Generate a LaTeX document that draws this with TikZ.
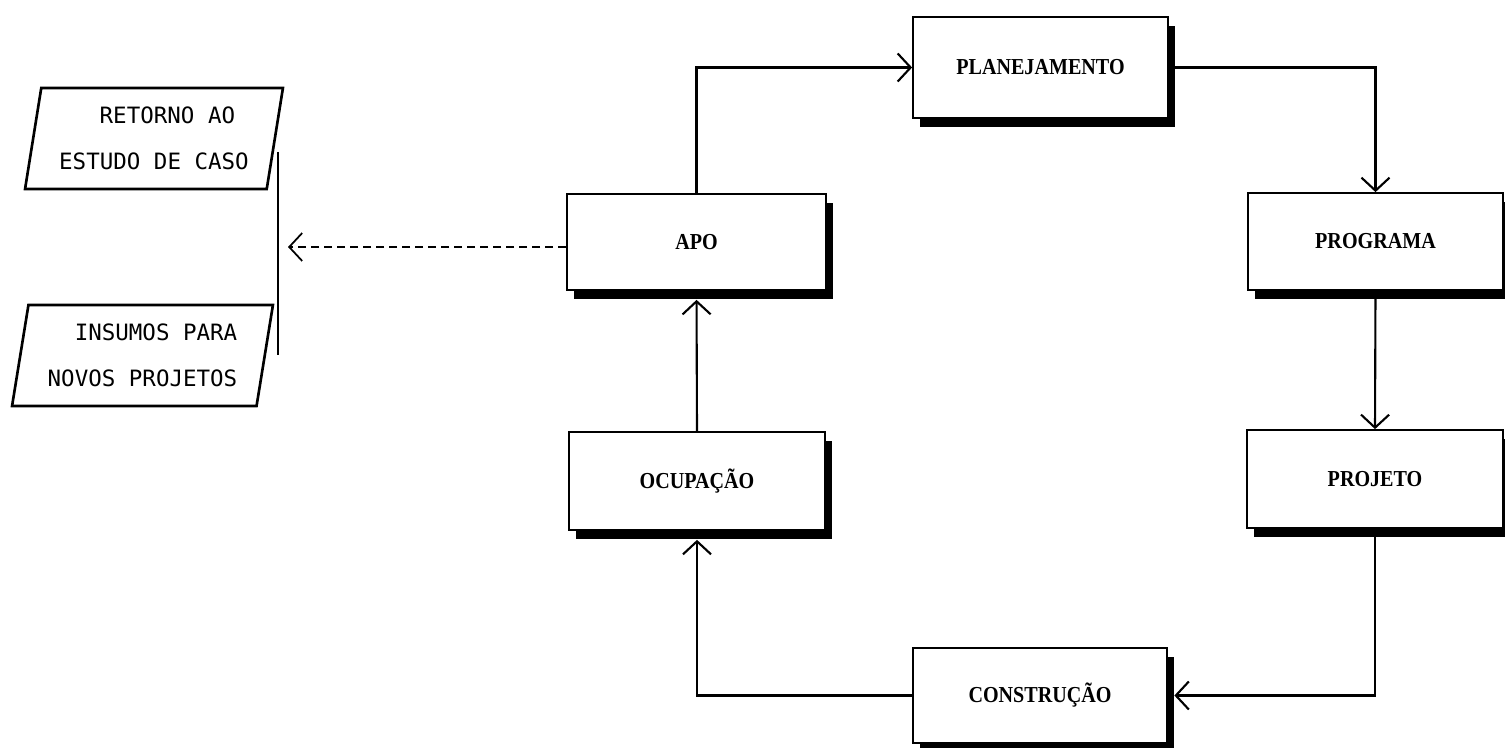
\documentclass[tikz,border=0pt]{standalone}
\usepackage{fontspec}
\usepackage{tikz}
\usetikzlibrary{arrows.meta,positioning,shapes.geometric,shadows}
\newfontfamily\etapafont[FakeStretch=0.88]{Liberation Serif}
\newfontfamily\saidafont{DejaVu Sans Mono}

\begin{document}
\begin{tikzpicture}[>={Straight Barb[length=2.6mm,width=5.6mm]},
    etapa/.style={draw, line width=1pt, fill=white, inner sep=0pt,
        drop shadow={shadow xshift=0.13cm, shadow yshift=-0.18cm, fill=black, opacity=1},
        font=\etapafont\bfseries\fontsize{13}{15}\selectfont},
    saida/.style={trapezium, trapezium left angle=79, trapezium right angle=101,
        trapezium stretches=true, draw, line width=1.5pt,
        minimum width=5.16cm, minimum height=2.02cm,
        font=\saidafont\fontsize{12.8}{26}\selectfont},
    fluxo/.style={->, line width=1.2pt}]
    \useasboundingbox (0,0) rectangle (30.1,14.94);

    % Etapas do ciclo
    \node [etapa, minimum width=5.1cm, minimum height=2.02cm] (plan) at (20.81,13.59) {PLANEJAMENTO};
    \node [etapa, minimum width=5.18cm, minimum height=1.92cm] (apo) at (13.93,10.10) {APO};
    \node [etapa, minimum width=5.1cm, minimum height=1.94cm] (prog) at (27.51,10.11) {PROGRAMA};
    \node [etapa, minimum width=5.12cm, minimum height=1.96cm] (proj) at (27.5,5.36) {PROJETO};
    \node [etapa, minimum width=5.12cm, minimum height=1.96cm] (ocup) at (13.94,5.32) {OCUPAÇÃO};
    \node [etapa, minimum width=5.08cm, minimum height=1.9cm] (cons) at (20.8,1.03) {CONSTRUÇÃO};

    % Saidas da APO
    \node [saida, align=left] (ret) at (3.08,12.17) {\hspace*{1.8em}RETORNO AO\\ESTUDO DE CASO};
    \node [saida, align=right, minimum width=5.22cm] (ins) at (2.85,7.83) {INSUMOS PARA\\NOVOS PROJETOS};
    \coordinate (brtop) at (5.56,11.9);
    \coordinate (brbot) at (5.56,7.84);
    \coordinate (retorno) at (5.76,10.0);
    \draw [line width=0.8pt] (brtop) -- (brbot);

    % Fluxo
    \draw [fluxo] (apo.north) |- (plan.west);
    \draw [fluxo] (plan.east) -| (prog.north);
    \draw [fluxo] (prog.south) -- (proj.north);
    \draw [fluxo, shorten >=0.13cm] (proj.south) |- (cons.east);
    \draw [fluxo, shorten >=0.18cm] (cons.west) -| (ocup.south);
    \draw [fluxo, shorten >=0.18cm] (ocup.north) -- (apo.south);
    \draw [fluxo, line width=1pt, dash pattern=on 0.16cm off 0.1cm] (apo.west |- retorno) -- (retorno);
\end{tikzpicture}
\end{document}
